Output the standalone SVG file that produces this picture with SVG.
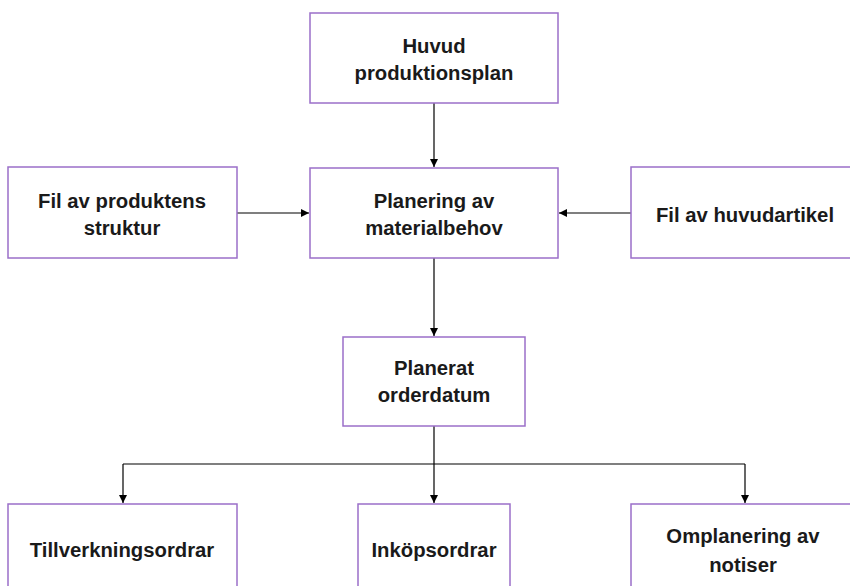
<svg xmlns="http://www.w3.org/2000/svg" width="850" height="586" viewBox="0 0 850 586">
  <style>
    .box { fill: #ffffff; stroke: #9b6fc9; stroke-width: 1.5; }
    .lbl { font-family: "Liberation Sans", Arial, sans-serif; font-weight: bold; font-size: 20.3px; fill: #1a1a1a; text-anchor: middle; }
    .wire { fill: none; stroke: #000000; stroke-width: 1.2; }
  </style>
  <defs>
    <marker id="arrow" viewBox="0 0 10 10" refX="10" refY="5" markerWidth="8" markerHeight="8" markerUnits="userSpaceOnUse" orient="auto">
      <path d="M0,0 L10,5 L0,10 Z" fill="#000000"/>
    </marker>
  </defs>
  <rect width="850" height="586" fill="#ffffff"/>

  <g id="connectors">
    <line class="wire" x1="434" y1="103" x2="434" y2="167" marker-end="url(#arrow)"/>
    <line class="wire" x1="237" y1="213" x2="309" y2="213" marker-end="url(#arrow)"/>
    <line class="wire" x1="631" y1="213" x2="559" y2="213" marker-end="url(#arrow)"/>
    <line class="wire" x1="434" y1="258" x2="434" y2="336" marker-end="url(#arrow)"/>
    <line class="wire" x1="434" y1="426" x2="434" y2="503" marker-end="url(#arrow)"/>
    <path class="wire" d="M123,464 H745"/>
    <line class="wire" x1="123" y1="464" x2="123" y2="503" marker-end="url(#arrow)"/>
    <line class="wire" x1="745" y1="464" x2="745" y2="503" marker-end="url(#arrow)"/>
  </g>

  <g id="huvud-produktionsplan">
    <rect class="box" x="310" y="13" width="248" height="90"/>
    <text class="lbl" x="434" y="53">Huvud</text>
    <text class="lbl" x="434" y="80">produktionsplan</text>
  </g>

  <g id="fil-produktens-struktur">
    <rect class="box" x="8" y="167" width="229" height="91"/>
    <text class="lbl" x="122" y="208">Fil av produktens</text>
    <text class="lbl" x="122" y="235">struktur</text>
  </g>

  <g id="planering-materialbehov">
    <rect class="box" x="310" y="168" width="248" height="90"/>
    <text class="lbl" x="434" y="208">Planering av</text>
    <text class="lbl" x="434" y="235">materialbehov</text>
  </g>

  <g id="fil-huvudartikel">
    <rect class="box" x="631" y="167" width="225" height="91"/>
    <text class="lbl" x="745" y="222">Fil av huvudartikel</text>
  </g>

  <g id="planerat-orderdatum">
    <rect class="box" x="343" y="337" width="182" height="89"/>
    <text class="lbl" x="434" y="375">Planerat</text>
    <text class="lbl" x="434" y="402">orderdatum</text>
  </g>

  <g id="tillverkningsordrar">
    <rect class="box" x="8" y="504" width="229" height="90"/>
    <text class="lbl" x="122" y="557">Tillverkningsordrar</text>
  </g>

  <g id="inkopsordrar">
    <rect class="box" x="358" y="504" width="152" height="90"/>
    <text class="lbl" x="434" y="557">Inköpsordrar</text>
  </g>

  <g id="omplanering-notiser">
    <rect class="box" x="631" y="504" width="225" height="90"/>
    <text class="lbl" x="743" y="543">Omplanering av</text>
    <text class="lbl" x="743" y="572">notiser</text>
  </g>
</svg>
